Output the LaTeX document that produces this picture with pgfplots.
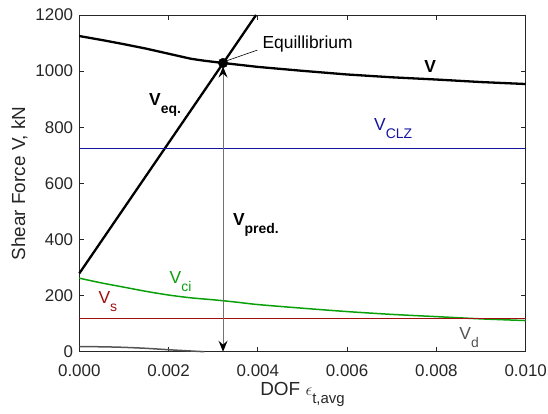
\documentclass[border=0pt]{standalone}
\usepackage{fontspec}
\setmainfont{Liberation Sans}
\usepackage{pgfplots}
\pgfplotsset{compat=1.18}
\usetikzlibrary{arrows.meta}

\definecolor{axgray}{gray}{0.15}
\definecolor{clzblue}{RGB}{20,20,160}
\definecolor{cigreen}{RGB}{10,160,10}
\definecolor{sred}{RGB}{160,16,16}
\definecolor{dgray}{gray}{0.33}

% label text: main size and lowered subscript
\newcommand\lbl{\fontsize{17.5}{20}\selectfont}
\newcommand\lsub[1]{\raisebox{-8bp}{\fontsize{14}{16}\selectfont #1}}

\begin{document}
\begin{tikzpicture}
\useasboundingbox (-79.3bp,-62.3bp) rectangle (468.7bp,351.7bp);
\begin{axis}[
  at={(0,0)}, anchor=south west,
  scale only axis, width=446.4bp, height=336.7bp,
  xmin=0, xmax=0.01, ymin=0, ymax=1200,
  clip=false,
  axis line style={axgray, line width=0.8bp},
  tick style={axgray, line width=0.8bp},
  major tick length=5bp,
  tick align=inside,
  xtick={0,0.002,0.004,0.006,0.008,0.01},
  xticklabels={0.000,0.002,0.004,0.006,0.008,0.010},
  ytick={0,200,400,600,800,1000,1200},
  yticklabels={0,200,400,600,800,1000,1200},
  scaled x ticks=false, scaled y ticks=false,
  ticklabel style={font=\fontsize{17}{20}\selectfont, text=axgray},
  xticklabel style={anchor=base, inner sep=0pt, yshift=-25bp},
  yticklabel style={anchor=east, inner sep=0pt, xshift=-6bp},
  xlabel={DOF {\fontsize{17}{17}\selectfont$\epsilon$}\raisebox{-8bp}{\fontsize{15}{15}\selectfont t,avg}},
  ylabel={Shear Force V, kN},
  label style={font=\fontsize{19}{22}\selectfont, text=axgray},
  xlabel style={at={(axis description cs:0.5,-0.1286)}, anchor=base, inner sep=0pt},
  ylabel style={at={(axis description cs:-0.1216,0.5)}, anchor=base, inner sep=0pt, rotate=0},
]

% total resistance V
\addplot[black, line width=2.3bp] coordinates {
  (0,1125) (0.0005,1111) (0.001,1096) (0.0015,1080) (0.002,1062)
  (0.0025,1044) (0.0028,1037) (0.00322,1029) (0.004,1015) (0.005,1001)
  (0.006,988) (0.007,978) (0.008,970) (0.009,961) (0.01,954)};

% demand line V_eq
\addplot[black, line width=2.3bp] coordinates {(0,279) (0.00396,1200)};

% V_CLZ
\addplot[clzblue, line width=1.5bp] coordinates {(0,725) (0.01,725)};

% V_ci
\addplot[cigreen, line width=1.5bp, smooth] coordinates {
  (0,262) (0.0005,245) (0.001,230) (0.0015,215) (0.002,202) (0.0025,192)
  (0.003,185) (0.0035,177) (0.004,168) (0.005,155) (0.006,143)
  (0.007,133) (0.008,125) (0.009,117) (0.01,111)};

% V_s
\addplot[sred, line width=1.5bp] coordinates {(0,119) (0.01,119)};

% V_d
\addplot[dgray, line width=1.5bp, smooth] coordinates {
  (0,18) (0.0005,17.5) (0.001,15.5) (0.0015,12) (0.002,7) (0.0025,2.5) (0.0028,0)};

% predicted shear
\addplot[gray!90!black, line width=1bp,
  {Stealth[length=11bp,width=9bp,inset=4bp,black]}-{Stealth[length=11bp,width=9bp,inset=4bp,black]}]
  coordinates {(0.00322,0) (0.00322,1016)};

% equilibrium point and its callout
\addplot[black, line width=0.6bp] coordinates {(0.00325,1034) (0.00399,1075)};
\addplot[black, only marks, mark=*, mark size=4.8bp] coordinates {(0.00322,1029)};

\node[anchor=west, inner sep=0pt, font=\lbl] at (axis cs:0.00410,1097) {Equillibrium};
\node[anchor=base, inner sep=0pt, font=\lbl\bfseries] at (axis cs:0.00786,995) {V};
\node[anchor=base west, inner sep=0pt, font=\lbl\bfseries] at (axis cs:0.00156,879) {V\lsub{eq.}};
\node[anchor=base west, inner sep=0pt, font=\lbl\bfseries] at (axis cs:0.00344,451) {V\lsub{pred.}};
\node[anchor=base west, inner sep=0pt, font=\lbl, text=clzblue] at (axis cs:0.0066,788) {V\lsub{CLZ}};
\node[anchor=base west, inner sep=0pt, font=\lbl, text=cigreen] at (axis cs:0.00202,244) {V\lsub{ci}};
\node[anchor=base west, inner sep=0pt, font=\lbl, text=sred] at (axis cs:0.000426,172) {V\lsub{s}};
\node[anchor=base west, inner sep=0pt, font=\lbl, text=dgray] at (axis cs:0.00851,44) {V\lsub{d}};
\end{axis}
\end{tikzpicture}
\end{document}
